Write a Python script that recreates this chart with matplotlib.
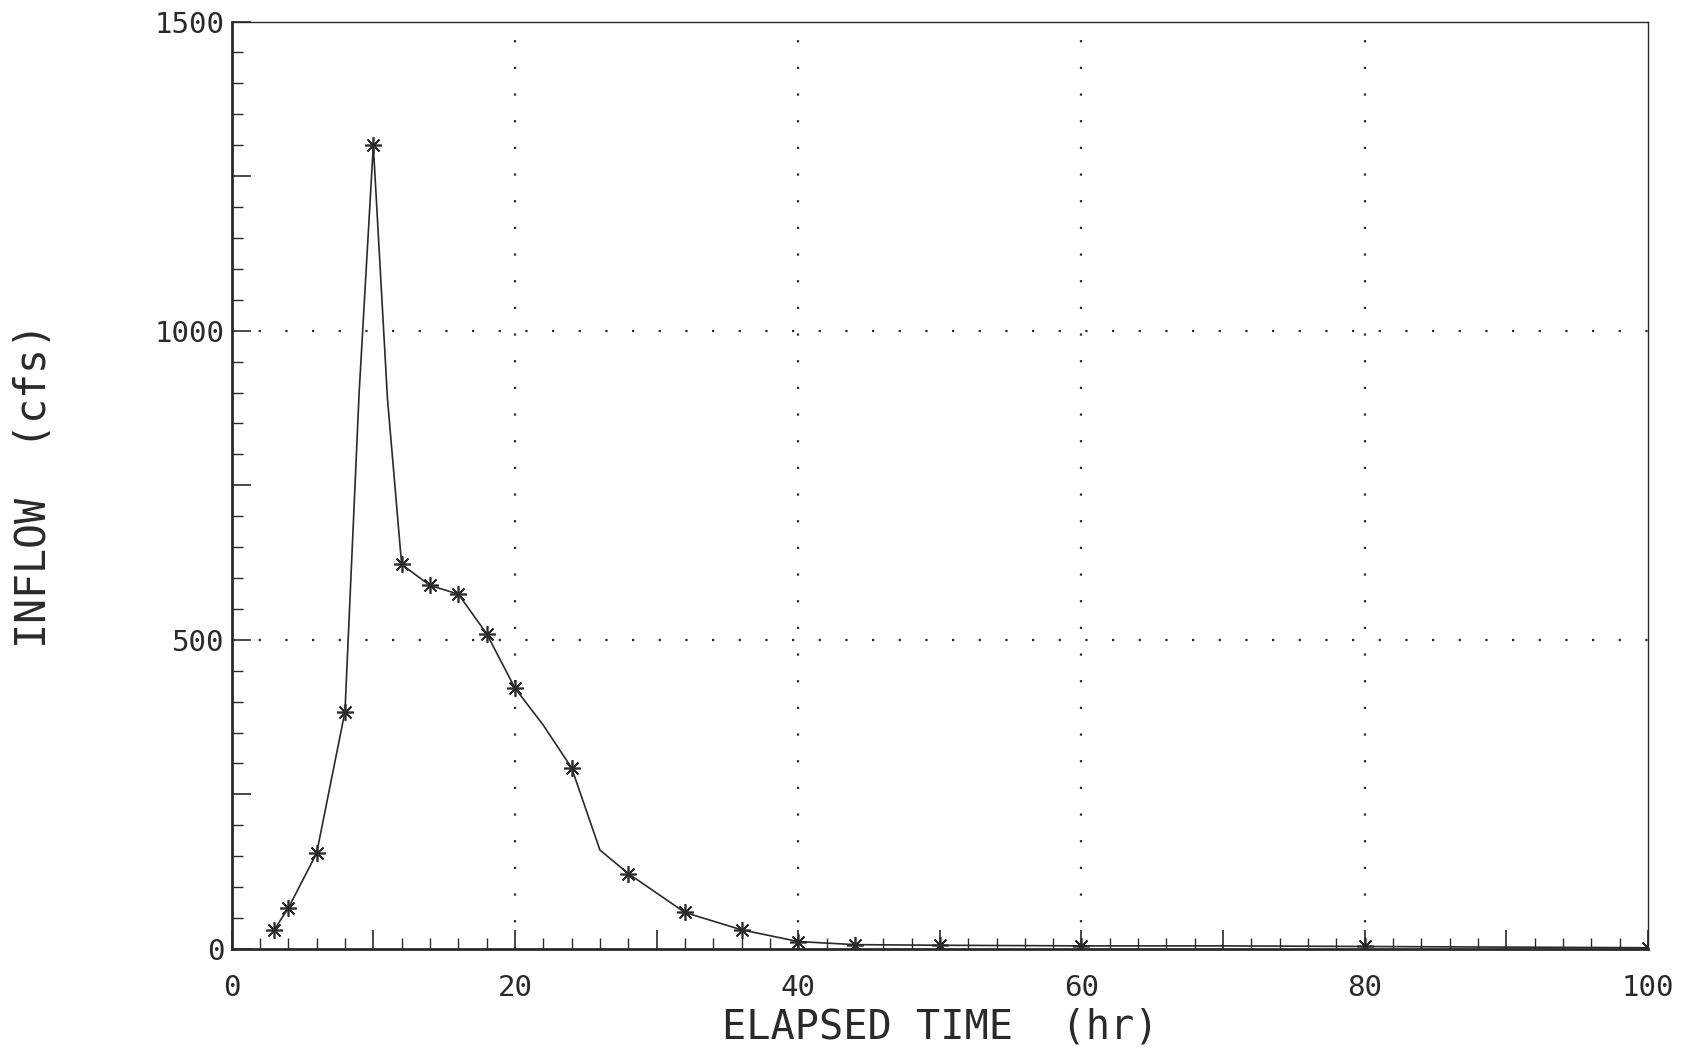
import matplotlib.pyplot as plt
from matplotlib.ticker import MultipleLocator, FuncFormatter

# hydrograph trace (hr, cfs)
time_hr = [3, 4, 6, 8, 9, 10, 11, 12, 14, 16, 18, 20, 22, 24, 26, 28,
           32, 36, 40, 44, 50, 60, 70, 80, 90, 100]
inflow_cfs = [31, 66, 155, 384, 900, 1300, 890, 622, 588, 574, 510, 422,
              362, 293, 160, 122, 59, 31, 12, 7, 6, 5, 5, 4, 3, 2]

# asterisk markers
mark_hr = [3, 4, 6, 8, 10, 12, 14, 16, 18, 20, 24, 28, 32, 36, 40, 44, 50, 60, 80, 100]
mark_cfs = [31, 66, 155, 384, 1300, 622, 588, 574, 510, 422, 293, 122, 59, 31,
            12, 7, 6, 5, 4, 2]

x_grid = [20, 40, 60, 80]
y_grid = [500, 1000]

ink = '#2a2a2a'
plt.rcParams['font.family'] = ['DejaVu Sans Mono']

fig = plt.figure(figsize=(16.91, 10.53), dpi=100)
ax = fig.add_axes([0.137, 0.0988, 0.8376, 0.8807])

ax.plot(time_hr, inflow_cfs, color=ink, lw=1.2)
ax.plot(mark_hr, mark_cfs, ls='none', marker=(8, 2, 0), ms=12, mew=1.2, color=ink)

ax.set_xlim(0, 100)
ax.set_ylim(0, 1500)

# plotter style dotted grid
for gx in x_grid:
    ax.axvline(gx, color=ink, lw=1.6, ls=(0, (1, 11)))
for gy in y_grid:
    ax.axhline(gy, color=ink, lw=1.6, ls=(0, (1, 11)))

# long ticks every 10 hr / 250 cfs, labels only every 20 hr / 500 cfs
ax.xaxis.set_major_locator(MultipleLocator(10))
ax.yaxis.set_major_locator(MultipleLocator(250))
ax.xaxis.set_major_formatter(FuncFormatter(lambda v, p: f'{v:.0f}' if round(v) % 20 == 0 else ''))
ax.yaxis.set_major_formatter(FuncFormatter(lambda v, p: f'{v:.0f}' if round(v) % 500 == 0 else ''))
ax.xaxis.set_minor_locator(MultipleLocator(2))
ax.yaxis.set_minor_locator(MultipleLocator(50))
ax.tick_params(which='major', direction='in', length=14, width=1.2, color=ink,
               labelsize=21, labelcolor=ink)
ax.tick_params(axis='x', which='major', pad=18)
ax.tick_params(axis='y', which='major', pad=5)
ax.tick_params(which='minor', direction='in', length=8, width=1.0, color=ink)

for s in ax.spines.values():
    s.set_color(ink)
    s.set_linewidth(1.0)
ax.spines['left'].set_linewidth(2.0)
ax.spines['bottom'].set_linewidth(2.0)

fig.text(0.5 * (0.137 + 0.9746), 0.024, 'ELAPSED TIME  (hr)', fontsize=29,
         color=ink, ha='center', va='center')
ax.set_ylabel('INFLOW  (cfs)', fontsize=30, color=ink, labelpad=72)

fig.savefig('out.png', dpi=100)
